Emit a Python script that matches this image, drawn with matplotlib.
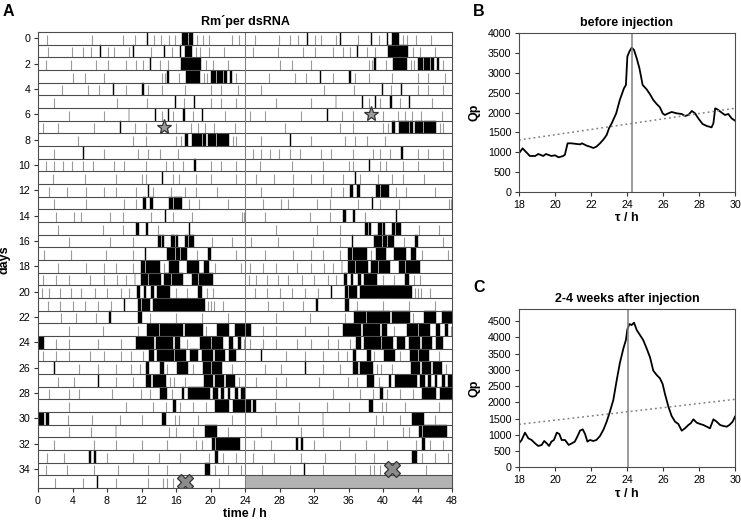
import matplotlib
matplotlib.use("Agg")
import matplotlib.pyplot as plt
import numpy as np

plt.rcParams['font.family'] = ['Liberation Sans', 'DejaVu Sans']

# ---------------- actogram data (hours within each day) ----------------
day_numbers = list(range(36))
# dense activity bouts per day: (start_h, end_h)
active_bouts = [
    [(12.6, 12.75), (16.7, 17.0), (17.1, 17.4), (17.5, 18.0)],                                  # 0
    [(7.15, 7.3), (11.0, 11.1), (14.65, 14.75), (16.45, 16.6), (17.0, 17.8)],                   # 1
    [(13.0, 13.1), (16.6, 18.9)],                                                               # 2
    [(15.0, 15.15), (17.2, 18.8), (20.0, 20.6), (20.8, 21.4), (21.6, 21.9), (22.3, 22.5)],      # 3
    [(8.7, 8.85), (12.0, 12.3)],                                                                # 4
    [(15.9, 16.05), (18.1, 18.2)],                                                              # 5
    [(10.5, 10.6), (13.6, 13.7), (15.1, 15.2), (16.85, 17.0), (19.0, 19.1)],                    # 6
    [(9.5, 9.6)],                                                                               # 7
    [(17.0, 17.4), (17.8, 19.0), (19.1, 19.5), (19.7, 20.6), (20.7, 22.2)],                     # 8
    [(5.2, 5.3)],                                                                               # 9
    [(18.05, 18.3)],                                                                            # 10
    [(14.4, 14.5)],                                                                             # 11
    [(12.7, 12.85)],                                                                            # 12
    [(12.2, 12.5), (13.0, 13.3), (15.2, 15.7), (15.8, 16.3), (16.4, 16.7)],                     # 13
    [(14.7, 14.85)],                                                                            # 14
    [(11.4, 11.7), (12.5, 12.7), (17.5, 17.6)],                                                 # 15
    [(13.9, 14.3), (14.4, 14.6), (15.4, 15.6), (15.7, 15.9), (16.0, 16.2), (17.0, 17.4), (17.5, 18.1)],  # 16
    [(12.4, 12.5), (15.0, 15.9), (16.0, 16.5), (16.6, 17.3), (19.7, 20.0)],                     # 17
    [(11.9, 12.4), (12.5, 14.1), (15.2, 16.3), (17.3, 18.7), (19.2, 19.8)],                     # 18
    [(11.2, 11.3), (11.9, 12.8), (12.9, 14.3), (14.6, 15.4), (15.5, 16.8), (17.9, 18.6), (18.7, 20.3)],  # 19
    [(11.5, 11.8), (12.3, 12.5), (13.1, 13.4), (13.8, 15.3), (18.5, 19.0)],                     # 20
    [(10.0, 10.1), (11.6, 11.9), (12.1, 13.0), (13.3, 19.4)],                                   # 21
    [(8.2, 8.5), (11.6, 12.0)],                                                                 # 22
    [(12.6, 14.0), (14.2, 16.8), (17.0, 19.1), (20.7, 22.2), (22.8, 24.0)],                     # 23
    [(0.0, 0.7), (11.4, 13.5), (13.7, 15.6), (15.9, 16.5), (18.8, 20.0), (20.2, 21.5), (22.1, 22.6), (23.2, 23.5)],  # 24
    [(12.9, 13.4), (13.8, 15.8), (15.9, 17.2), (17.6, 18.5), (19.0, 20.3), (20.5, 21.7), (22.2, 23.0)],  # 25
    [(1.9, 2.0), (12.5, 12.9), (14.1, 14.6), (16.1, 17.4), (19.1, 20.1), (20.2, 21.3)],         # 26
    [(7.0, 7.1), (12.5, 13.1), (13.3, 14.8), (19.3, 20.3), (20.5, 21.6), (21.8, 22.8)],         # 27
    [(14.1, 14.9), (16.7, 16.9), (17.4, 19.9), (20.3, 20.9), (21.2, 21.6), (22.0, 22.3), (22.8, 23.2), (23.5, 24.0)],  # 28
    [(15.7, 16.0), (20.5, 22.2), (22.6, 24.0)],                                                 # 29
    [(0.0, 0.7), (0.95, 1.3), (14.4, 14.8)],                                                    # 30
    [(9.0, 9.1), (19.4, 20.8)],                                                                 # 31
    [(20.2, 20.5), (20.6, 23.4)],                                                               # 32
    [(5.95, 6.2), (6.45, 6.7), (20.5, 20.9)],                                                   # 33
    [(19.4, 19.9)],                                                                             # 34
    [(6.8, 6.9)],                                                                               # 35
]
# sparse single counts per day (hours)
sparse_counts = [
    [1.0, 6.3, 9.9, 11.3, 13.5, 14.3, 15.2, 15.9, 18.4, 19.1, 19.8, 22.5, 23.3],
    [1.2, 3.9, 5.2, 6.1, 8.1, 8.8, 10.5, 13.1, 15.5, 18.3, 18.8, 19.8, 21.6],
    [0.9, 3.8, 6.7, 8.1, 10.2, 11.4, 12.2, 14.2, 15.1, 19.5, 20.3, 22.0],
    [4.1, 5.4, 7.7, 14.4, 14.7, 16.3, 19.2, 19.6, 23.0],
    [2.8, 5.8, 7.1, 10.2, 12.8, 14.4, 17.0, 20.0, 21.2, 23.2],
    [1.9, 9.2, 12.6, 16.9, 20.0, 21.2, 22.9],
    [3.6, 7.7, 14.4, 15.6, 18.0, 21.7],
    [0.6, 2.3, 6.5, 11.3, 12.5, 16.0, 17.7, 18.5, 19.4, 20.4, 22.8],
    [4.6, 11.0, 12.5, 16.0, 16.6, 22.6, 23.0],
    [1.9, 7.6, 11.6, 12.8, 14.1, 16.2],
    [0.9, 1.9, 2.9, 3.9, 5.2, 6.4, 8.8, 10.0, 12.5, 14.8, 15.6, 16.8, 20.0, 21.2, 22.9],
    [1.7, 5.4, 9.0, 12.0, 12.5, 15.6, 16.4, 18.3, 20.0, 22.9],
    [1.3, 3.4, 5.6, 7.7, 9.0, 11.4, 13.3, 15.4, 17.0, 18.3, 20.8],
    [1.9, 5.6, 10.0, 11.4, 17.5, 18.7, 22.0],
    [2.1, 4.2, 5.0, 8.3, 9.8, 13.1, 15.6, 17.9, 23.7, 23.9],
    [2.3, 7.5, 9.9, 13.9],
    [3.6, 8.3, 11.0, 20.2, 22.5],
    [0.7, 3.8, 7.9, 11.0, 18.4, 22.9],
    [2.3, 5.6, 7.7, 9.0, 11.0, 14.6, 20.5, 23.5],
    [0.6, 2.1, 3.6, 6.0, 7.7, 9.2, 10.2],
    [0.5, 1.3, 2.5, 3.8, 5.0, 6.6, 8.0, 9.6, 10.6, 16.0, 17.3, 19.6, 20.3],
    [1.2, 2.5, 4.0, 5.5, 7.0, 8.5, 19.7, 20.0, 20.4, 21.5],
    [2.7, 4.4, 6.7, 13.0, 16.0, 19.0, 22.0],
    [3.6, 7.5, 11.6, 19.5],
    [2.1, 3.6, 7.0, 9.6, 17.3, 23.9],
    [0.6, 2.1, 3.6, 6.0, 7.7, 9.6, 10.8, 12.2],
    [4.8, 6.9, 9.1, 10.8, 11.8, 15.0, 18.0, 22.5],
    [2.3, 4.2, 9.0, 11.0, 15.3, 15.8, 17.0, 23.3],
    [1.3, 3.6, 4.8, 8.6, 11.9, 13.0, 15.5],
    [3.6, 10.2, 13.3, 14.8, 16.5, 18.0, 19.5],
    [3.5, 6.3, 9.5, 12.0, 15.9, 16.3, 18.5, 22.5],
    [3.6, 6.1, 15.2, 16.0, 18.0, 22.0],
    [1.9, 6.5, 9.0, 12.0, 15.0, 18.3, 19.0],
    [1.0, 3.0, 8.0, 11.0, 14.0, 16.5, 19.8, 21.5, 23.0],
    [0.9, 3.4, 6.5, 9.3, 12.8, 15.0, 20.5, 22.0, 23.5],
    [2.0, 5.2, 9.0, 12.8, 14.5, 15.0, 15.7, 17.5, 21.0],
]
star_day, star_hour = 7, 14.6      # injection marker
cross_day, cross_hour = 35, 17.0   # end marker

# ---------------- periodogram data ----------------
tau_b = [18.0, 18.2, 18.43, 18.6, 18.9, 19.07, 19.35, 19.5, 19.8, 20.0, 20.2, 20.46, 20.55, 20.7,
         20.9, 21.4, 21.5, 21.76, 21.94, 22.13, 22.3, 22.5, 22.7, 22.87, 23.0, 23.15, 23.4, 23.6,
         23.83, 23.94, 24.02, 24.13, 24.26, 24.39, 24.54, 24.69, 24.87, 25.09, 25.28, 25.46, 25.65,
         25.83, 25.98, 26.1, 26.3, 26.48, 26.76, 27.04, 27.22, 27.41, 27.6, 27.78, 27.96, 28.2,
         28.43, 28.7, 28.8, 28.9, 29.02, 29.26, 29.44, 29.63, 29.81, 30.0]
qp_b = [975, 1100, 990, 908, 908, 958, 908, 958, 908, 925, 874, 908, 940, 1227,
        1227, 1200, 1227, 1168, 1143, 1109, 1143, 1227, 1328, 1437, 1605, 1731, 1983, 2319,
        2613, 2697, 3412, 3538, 3639, 3580, 3370, 3118, 2697, 2588, 2462, 2319, 2218,
        2134, 1983, 1941, 1983, 2017, 1983, 1966, 1916, 1941, 2042, 1983, 1857, 1714,
        1664, 1630, 1731, 2109, 2084, 2000, 1941, 1966, 1857, 1798]
sig_b = [1310, 2110]
peak_b = 24.28

tau_c = [18.0, 18.15, 18.33, 18.52, 18.7, 18.89, 19.07, 19.26, 19.4, 19.54, 19.67, 19.8, 19.94,
         20.1, 20.24, 20.37, 20.56, 20.76, 20.94, 21.1, 21.24, 21.39, 21.54, 21.67, 21.8, 21.94,
         22.13, 22.3, 22.5, 22.7, 22.87, 23.05, 23.24, 23.43, 23.6, 23.8, 23.94, 24.02, 24.13,
         24.26, 24.39, 24.54, 24.72, 24.9, 25.09, 25.28, 25.46, 25.65, 25.83, 25.98, 26.1, 26.3,
         26.48, 26.67, 26.85, 27.04, 27.22, 27.41, 27.54, 27.69, 27.87, 28.06, 28.24, 28.43,
         28.61, 28.8, 28.98, 29.17, 29.35, 29.54, 29.69, 29.87, 30.0]
qp_c = [738, 840, 1066, 892, 840, 738, 656, 687, 810, 738, 656, 790, 840,
        1066, 1025, 840, 840, 687, 738, 790, 943, 1127, 1168, 1025, 790, 840,
        810, 840, 963, 1168, 1404, 1712, 2070, 2685, 3198, 3659, 3915, 4243, 4407,
        4377, 4449, 4223, 4070, 3915, 3659, 3383, 2973, 2839, 2737, 2563, 2276, 1866,
        1579, 1404, 1333, 1127, 1199, 1302, 1353, 1476, 1373, 1333, 1302, 1250,
        1199, 1476, 1404, 1302, 1271, 1250, 1302, 1404, 1558]
sig_c = [1322, 2091]
peak_c = 24.07

# ---------------- figure ----------------
W, H = 741, 523
fig = plt.figure(figsize=(W / 100, H / 100), dpi=100)

def frac(x0, y0, x1, y1):
    return [x0 / W, 1 - y1 / H, (x1 - x0) / W, (y1 - y0) / H]

FS = 9          # bold labels / titles
TFS = 7.7       # tick labels
axA = fig.add_axes(frac(38, 32, 452, 488))
nrows = len(day_numbers)
for r in range(nrows):
    for off, d in ((0, r), (24, r + 1)):
        if d >= nrows:
            continue
        xr = [(s + off, e - s) for s, e in active_bouts[d]]
        axA.broken_barh(xr, (r - 0.45, 0.95), facecolors='black', edgecolors='black', linewidth=0.3)
        xs = [t + off for t in sparse_counts[d]]
        axA.vlines(xs, r + 0.5 - 0.8, r + 0.5, colors='#9a9a9a', linewidth=0.8)
# missing data (last row, second half)
axA.broken_barh([(24, 24)], (nrows - 1.5, 1.0), facecolors='#b3b3b3', edgecolors='none')
axA.hlines([r + 0.5 for r in range(nrows - 1)], 0, 48, colors='#4d4d4d', linewidth=0.8)
axA.axvline(24, color='#808080', linewidth=0.8)
axA.plot([star_hour, star_hour + 24], [star_day, star_day - 1], linestyle='none', marker='*',
         markersize=11, markerfacecolor='#9a9a9a', markeredgecolor='#333333', markeredgewidth=0.9)
axA.plot([cross_hour, cross_hour + 24], [cross_day, cross_day - 1], linestyle='none', marker='X',
         markersize=11, markerfacecolor='#8c8c8c', markeredgecolor='#333333', markeredgewidth=0.9)
axA.set_xlim(0, 48)
axA.set_ylim(nrows - 0.5, -0.5)
axA.set_xticks(range(0, 49, 4))
axA.set_yticks(range(0, nrows, 2))
axA.tick_params(labelsize=TFS, length=3, width=0.8, color='#333333', pad=2.5)
axA.set_xlabel('time / h', fontsize=FS, fontweight='bold', labelpad=2)
axA.set_ylabel('days', fontsize=FS, fontweight='bold')
axA.yaxis.set_label_coords(-0.066, 0.5)
axA.set_title('Rm\u00b4per dsRNA', fontsize=FS, fontweight='bold', pad=5)
for s in axA.spines.values():
    s.set_color('#4d4d4d')
    s.set_linewidth(0.8)

def periodogram(ax, tau, qp, sig, peak, ymax, yticks, title):
    ax.plot(tau, qp, color='black', linewidth=1.3)
    ax.plot([18, 30], sig, color='#808080', linestyle=(0, (1.2, 2)), linewidth=1.1)
    ax.axvline(peak, color='#808080', linewidth=1.1)
    ax.set_xlim(18, 30)
    ax.set_ylim(0, ymax)
    ax.set_xticks(range(18, 31, 2))
    ax.set_yticks(yticks)
    ax.tick_params(labelsize=TFS, length=3, width=0.8, color='#333333', pad=2.5)
    ax.set_xlabel('\u03c4 / h', fontsize=FS, fontweight='bold', labelpad=2)
    ax.set_ylabel('Qp', fontsize=FS, fontweight='bold', labelpad=5)
    ax.set_title(title, fontsize=FS, fontweight='bold', pad=5)
    for s in ax.spines.values():
        s.set_color('#4d4d4d')
        s.set_linewidth(0.8)

axB = fig.add_axes(frac(519, 33.3, 735, 192))
periodogram(axB, tau_b, qp_b, sig_b, peak_b, 4000, range(0, 4001, 500), 'before injection')
axC = fig.add_axes(frac(519, 309, 735, 467.3))
periodogram(axC, tau_c, qp_c, sig_c, peak_c, 4870, range(0, 4501, 500), '2-4 weeks after injection')

fig.text(3 / W, 1 - 12 / H, 'A', fontsize=11.5, fontweight='bold', va='center', ha='left')
fig.text(473 / W, 1 - 12 / H, 'B', fontsize=11.5, fontweight='bold', va='center', ha='left')
fig.text(473 / W, 1 - 287 / H, 'C', fontsize=11.5, fontweight='bold', va='center', ha='left')

fig.savefig('out.png', dpi=100)
